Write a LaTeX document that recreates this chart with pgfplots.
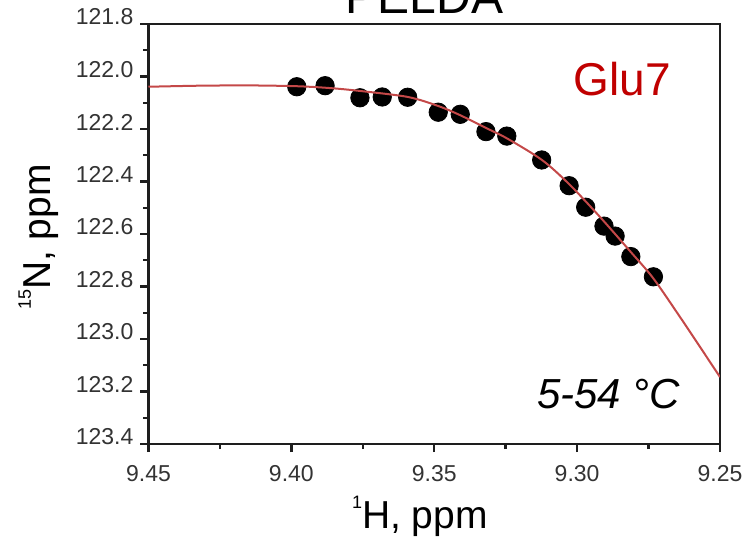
\documentclass[border=0pt]{standalone}
\usepackage{pgfplots}
\pgfplotsset{compat=1.18}
\usepackage{fontspec}
\setmainfont{Liberation Sans}
\definecolor{fitred}{RGB}{196,72,72}
\definecolor{glured}{RGB}{192,0,0}
\definecolor{axgray}{RGB}{30,30,30}
\newcommand{\sups}[1]{\raisebox{0.95ex}{\fontsize{9}{10}\selectfont #1}}
\begin{document}
\begin{tikzpicture}
\begin{axis}[name=ax, scale only axis, width=285.75pt, height=210pt,
  x dir=reverse, y dir=reverse,
  xmin=9.25, xmax=9.45, ymin=121.8, ymax=123.4,
  xtick={9.25,9.30,9.35,9.40,9.45},
  ytick={121.8,122.0,122.2,122.4,122.6,122.8,123.0,123.2,123.4},
  minor x tick num=1, minor y tick num=1,
  tick align=outside, tick pos=left,
  major tick length=4pt, minor tick length=2.5pt,
  /pgf/number format/assume math mode=true,
  xticklabel style={/pgf/number format/fixed, /pgf/number format/fixed zerofill, /pgf/number format/precision=2, yshift=-3pt},
  yticklabel style={/pgf/number format/fixed, /pgf/number format/fixed zerofill, /pgf/number format/precision=1, yshift=3.5pt},
  ticklabel style={font=\fontsize{11.5}{13}\selectfont, text=black!80},
  axis line style={line width=1.2pt, axgray},
  every tick/.style={line width=1.2pt, axgray},
  clip mode=individual,
  xlabel={\sups{1}H, ppm},
  xlabel style={font=\fontsize{19.5}{24}\selectfont, at={(rel axis cs:0.475,0)}, anchor=base, yshift=-42pt},
]
\addplot[only marks, mark=*, mark size=4.6pt, black] coordinates {
(9.3981,122.039) (9.3882,122.035) (9.3760,122.081) (9.3682,122.078)
(9.3593,122.079) (9.3486,122.136) (9.3409,122.144) (9.3319,122.210)
(9.3246,122.227) (9.3124,122.318) (9.3028,122.416) (9.2970,122.498)
(9.2906,122.570) (9.2867,122.608) (9.2812,122.686) (9.2733,122.763)
};
\addplot[fitred, line width=1pt, smooth, no markers] coordinates {
(9.4500,122.039) (9.4320,122.035) (9.4145,122.034) (9.3981,122.037)
(9.3865,122.044) (9.3760,122.055) (9.3592,122.078) (9.3487,122.112)
(9.3410,122.147) (9.3319,122.196) (9.3245,122.236) (9.3123,122.318)
(9.3028,122.410) (9.2920,122.535) (9.2815,122.665) (9.2734,122.768)
(9.2640,122.916) (9.2570,123.030) (9.2500,123.145)
};
\node[anchor=base west, text=glured, font=\fontsize{23}{27}\selectfont] at (rel axis cs:0.732,0.8286) {Glu7};
\node[anchor=base west, font=\fontsize{21}{25}\selectfont\itshape] at (rel axis cs:0.6675,0.085) {5-54 °C};
\end{axis}
\node[rotate=90, anchor=center, font=\fontsize{19.5}{24}\selectfont] at ([xshift=-55pt,yshift=-1.5pt]ax.west) {\sups{15}N, ppm};
\node[anchor=base, font=\fontsize{24}{28}\selectfont] at ([xshift=-4.9pt,yshift=5pt]ax.north) {PELDA};
\pgfresetboundingbox
\path ([xshift=-74.25pt,yshift=-48.5pt]ax.south west) rectangle ([xshift=15pt,yshift=12pt]ax.north east);
\end{tikzpicture}
\end{document}
